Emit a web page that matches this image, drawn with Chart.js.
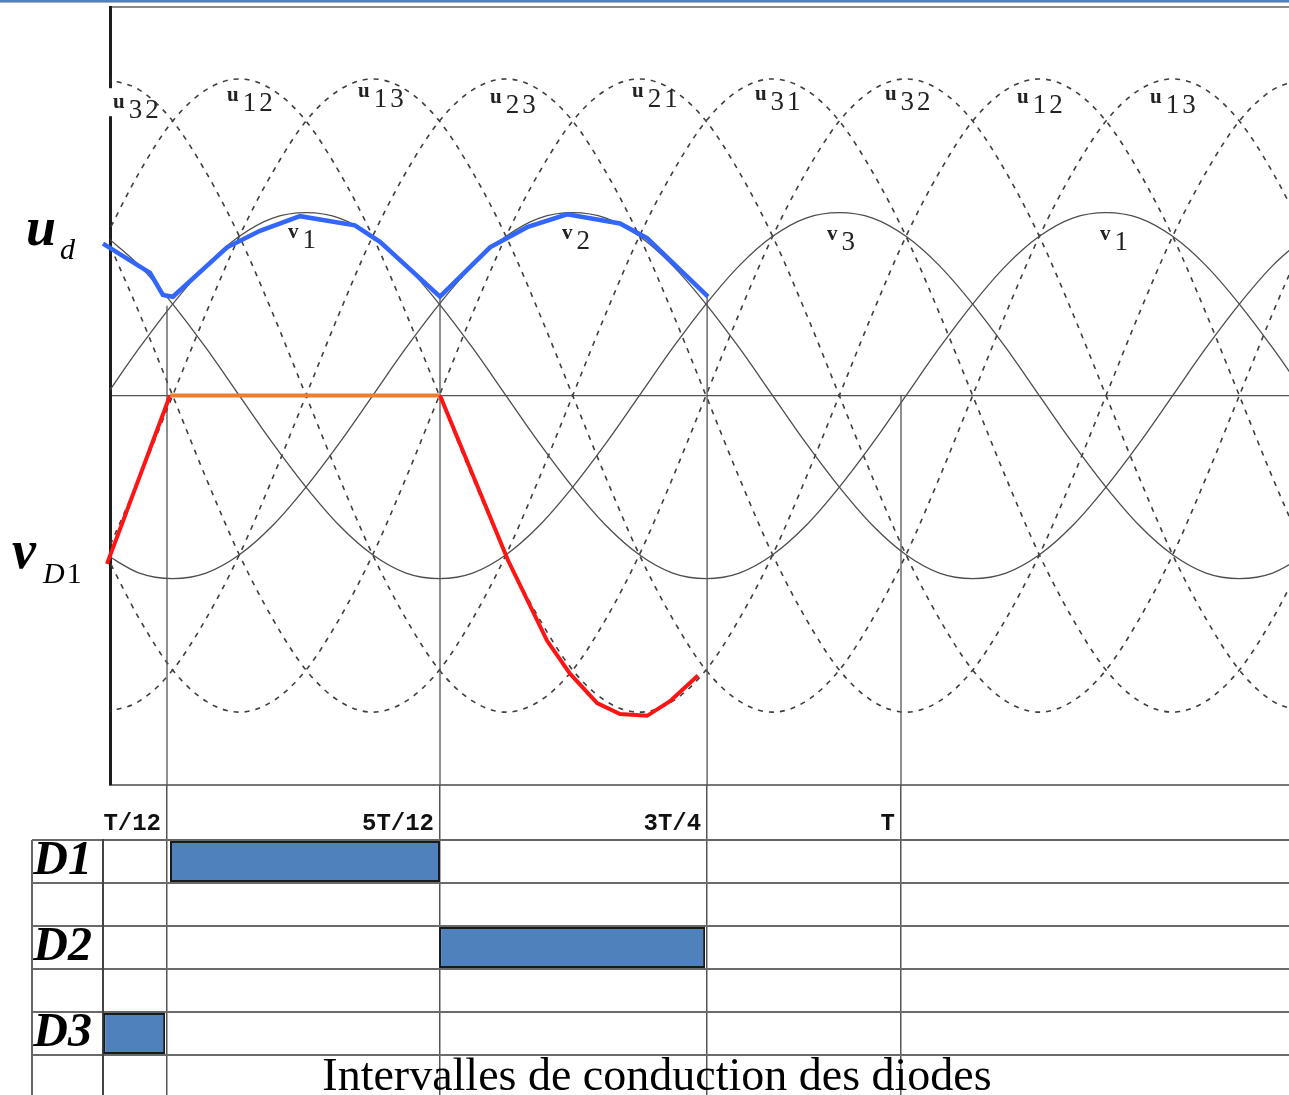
<!DOCTYPE html>
<html>
<head>
<meta charset="utf-8">
<script src="https://cdn.jsdelivr.net/npm/chart.js@4.4.0/dist/chart.umd.min.js"></script>
<style>
  html, body { margin: 0; padding: 0; background: #fff; }
  body { width: 1289px; height: 1095px; overflow: hidden; position: relative; }
  #bord { position: absolute; left: 0; top: 0; width: 1289px; height: 2px; background: #4f81bd; border-bottom: 1px solid #a9b4c2; }
  #ondes { position: absolute; left: 0; top: 0; }
  #diodes { position: absolute; left: 0; top: 785px; }
</style>
</head>
<body>
<div id="bord"></div>
<canvas id="ondes" width="1289" height="788"></canvas>
<canvas id="diodes" width="1289" height="313"></canvas>
<script>
// angle wt en degres, pas de 15 degres
let angles = [0,15,30,45,60,75,90,105,120,135,150,165,180,195,210,225,240,255,270,285,300,315,330,345,360,375,390,405,420,435,450,465,480,495,510,525,540]

// tensions simples (trait plein)
let v1 = [0,.26,.5,.71,.87,.97,1,.97,.87,.71,.5,.26,0,-.26,-.5,-.71,-.87,-.97,-1,-.97,-.87,-.71,-.5,-.26,0,.26,.5,.71,.87,.97,1,.97,.87,.71,.5,.26,0]
let v2 = [-.87,-.97,-1,-.97,-.87,-.71,-.5,-.26,0,.26,.5,.71,.87,.97,1,.97,.87,.71,.5,.26,0,-.26,-.5,-.71,-.87,-.97,-1,-.97,-.87,-.71,-.5,-.26,0,.26,.5,.71,.87]
let v3 = [.87,.71,.5,.26,0,-.26,-.5,-.71,-.87,-.97,-1,-.97,-.87,-.71,-.5,-.26,0,.26,.5,.71,.87,.97,1,.97,.87,.71,.5,.26,0,-.26,-.5,-.71,-.87,-.97,-1,-.97,-.87]

// tensions composees (pointilles)
let u32 = [1.73,1.67,1.5,1.22,.87,.45,0,-.45,-.87,-1.22,-1.5,-1.67,-1.73,-1.67,-1.5,-1.22,-.87,-.45,0,.45,.87,1.22,1.5,1.67,1.73,1.67,1.5,1.22,.87,.45,0,-.45,-.87,-1.22,-1.5,-1.67,-1.73]
let u23 = [-1.73,-1.67,-1.5,-1.22,-.87,-.45,0,.45,.87,1.22,1.5,1.67,1.73,1.67,1.5,1.22,.87,.45,0,-.45,-.87,-1.22,-1.5,-1.67,-1.73,-1.67,-1.5,-1.22,-.87,-.45,0,.45,.87,1.22,1.5,1.67,1.73]
let u12 = [.87,1.22,1.5,1.67,1.73,1.67,1.5,1.22,.87,.45,0,-.45,-.87,-1.22,-1.5,-1.67,-1.73,-1.67,-1.5,-1.22,-.87,-.45,0,.45,.87,1.22,1.5,1.67,1.73,1.67,1.5,1.22,.87,.45,0,-.45,-.87]
let u21 = [-.87,-1.22,-1.5,-1.67,-1.73,-1.67,-1.5,-1.22,-.87,-.45,0,.45,.87,1.22,1.5,1.67,1.73,1.67,1.5,1.22,.87,.45,0,-.45,-.87,-1.22,-1.5,-1.67,-1.73,-1.67,-1.5,-1.22,-.87,-.45,0,.45,.87]
let u13 = [-.87,-.45,0,.45,.87,1.22,1.5,1.67,1.73,1.67,1.5,1.22,.87,.45,0,-.45,-.87,-1.22,-1.5,-1.67,-1.73,-1.67,-1.5,-1.22,-.87,-.45,0,.45,.87,1.22,1.5,1.67,1.73,1.67,1.5,1.22,.87]
let u31 = [.87,.45,0,-.45,-.87,-1.22,-1.5,-1.67,-1.73,-1.67,-1.5,-1.22,-.87,-.45,0,.45,.87,1.22,1.5,1.67,1.73,1.67,1.5,1.22,.87,.45,0,-.45,-.87,-1.22,-1.5,-1.67,-1.73,-1.67,-1.5,-1.22,-.87]

// ud (trace bleu)
let udAngles = [-1.35,19.8,25.6,30.1,54.5,69.3,87.3,112,123.3,150.3,172.8,189.5,207.5,231.3,243.5,270.9]
let udValeurs = [.83,.67,.55,.54,.81,.9,.98,.93,.84,.54,.81,.92,.99,.94,.86,.54]

// vD1 (rouge / orange)
let vdAngles = [0.45,28.8,150.3,180.9,198.5,208.8,221,231.3,243.5,253.8,266.4]
let vdValeurs = [-.92,0,0,-.9,-1.34,-1.52,-1.68,-1.74,-1.75,-1.67,-1.53]

// instants reperes T/12, 5T/12, 3T/4, T
let reperes = [27.45,150.3,270.5,357.75]
let reperesNoms = ['T/12','5T/12','3T/4','T']
let reperesHaut = [.49,.54,.54,0]

// intervalles de conduction
let diodes = ['D1','','D2','','D3','']
let conduction = [[28.8,150.3],null,[149.9,269.6],null,[-1.2,26.6],null]

const xMax = 532.35
const xMinOndes = 1.8
const xMinDiodes = -1.35
const yMin = -2.128
const yMax = 2.123

Chart.defaults.font.family = "'Liberation Serif', serif"

function serie(valeurs, xs) {
  xs = xs || angles
  return valeurs.map((v, i) => ({ x: xs[i], y: v }))
}

let datasets = []

;[u32, u12, u13, u23, u21, u31].forEach(u => {
  datasets.push({ data: serie(u), borderColor: '#3e3e3e', borderWidth: 1.6, borderDash: [5, 6],
    pointRadius: 0, cubicInterpolationMode: 'monotone', order: 3 })
})

;[v1, v2, v3].forEach(v => {
  datasets.push({ data: serie(v), borderColor: '#4d4d4d', borderWidth: 1.3,
    pointRadius: 0, cubicInterpolationMode: 'monotone', order: 2 })
})

reperes.forEach((a, i) => {
  datasets.push({ data: [{ x: a, y: reperesHaut[i] }, { x: a, y: yMin }], borderColor: '#555',
    borderWidth: 1.3, pointRadius: 0, order: 1 })
})

datasets.push({ data: serie(udValeurs, udAngles), borderColor: '#3366ff', borderWidth: 4.5,
  pointRadius: 0, tension: 0, clip: false, order: 0 })

datasets.push({ data: serie(vdValeurs, vdAngles), borderColor: '#ff1414', borderWidth: 4,
  pointRadius: 0, tension: 0, clip: false, order: 0,
  segment: { borderColor: c => (c.p0.parsed.y === 0 && c.p1.parsed.y === 0) ? '#f07d2e' : '#ff1414' } })

const etiquettes = {
  id: 'etiquettes',
  afterDraw(chart, args, opts) {
    const { ctx, chartArea } = chart
    const x = chart.scales.x, y = chart.scales.y
    ctx.save()
    ctx.textBaseline = 'alphabetic'
    ctx.textAlign = 'left'
    opts.courbes.forEach(l => {
      const px = x.getPixelForValue(l.x), py = y.getPixelForValue(l.y)
      if (l.fond) {
        ctx.fillStyle = '#fff'
        ctx.fillRect(chartArea.left - 4, py - 20, 8, 28)
      }
      ctx.fillStyle = '#222'
      ctx.font = "bold 21px 'Liberation Serif', serif"
      ctx.fillText(l.t, px, py)
      const w = ctx.measureText(l.t).width
      ctx.font = "27px 'Liberation Serif', serif"
      ctx.letterSpacing = '3px'
      ctx.fillText(l.i, px + w + 4, py + 10)
      ctx.letterSpacing = '0px'
    })

    // u_d
    ctx.fillStyle = '#000'
    ctx.font = "italic bold 54px 'Liberation Serif', serif"
    ctx.fillText('u', 26, 245)
    ctx.font = "italic 30px 'Liberation Serif', serif"
    ctx.fillText('d', 60, 259)

    // v_D1
    ctx.font = "italic bold 54px 'Liberation Serif', serif"
    ctx.fillText('v', 12, 568)
    ctx.font = "italic 30px 'Liberation Serif', serif"
    ctx.fillText('D', 43, 583)
    const wd = ctx.measureText('D').width
    ctx.font = "30px 'Liberation Serif', serif"
    ctx.fillText('1', 43 + wd + 2, 583)
    ctx.restore()
  }
}

new Chart(document.getElementById('ondes'), {
  type: 'line',
  data: { datasets: datasets },
  plugins: [etiquettes],
  options: {
    responsive: false,
    animation: false,
    layout: { padding: { left: 110, right: 0, top: 7, bottom: 3 } },
    plugins: {
      legend: { display: false },
      tooltip: { enabled: false },
      etiquettes: {
        courbes: [
          { t: 'u', i: '32', x: 3.2, y: 1.57, fond: true },
          { t: 'u', i: '12', x: 54.5, y: 1.61 },
          { t: 'u', i: '13', x: 113.4, y: 1.63 },
          { t: 'u', i: '23', x: 172.8, y: 1.6 },
          { t: 'u', i: '21', x: 236.7, y: 1.63 },
          { t: 'u', i: '31', x: 292, y: 1.615 },
          { t: 'u', i: '32', x: 350.5, y: 1.615 },
          { t: 'u', i: '12', x: 410, y: 1.6 },
          { t: 'u', i: '13', x: 469.8, y: 1.6 },
          { t: 'v', i: '1', x: 81.9, y: .86 },
          { t: 'v', i: '2', x: 205.2, y: .855 },
          { t: 'v', i: '3', x: 324.5, y: .85 },
          { t: 'v', i: '1', x: 447.3, y: .85 }
        ]
      }
    },
    scales: {
      x: {
        type: 'linear', position: 'bottom', min: xMinOndes, max: xMax,
        ticks: { display: false }, grid: { display: false },
        border: { color: '#777', width: 2 },
        afterFit: s => { s.height = 0 }
      },
      xHaut: {
        type: 'linear', position: 'top', min: xMinOndes, max: xMax,
        ticks: { display: false }, grid: { display: false },
        border: { color: '#8a8a8a', width: 2 },
        afterFit: s => { s.height = 0 }
      },
      y: {
        type: 'linear', min: yMin, max: yMax,
        ticks: { display: false },
        grid: { color: '#555', lineWidth: 1.3, drawTicks: false },
        border: { color: '#1e1e1e', width: 3 },
        afterBuildTicks: s => { s.ticks = [{ value: 0 }] },
        afterFit: s => { s.width = 0 }
      }
    }
  }
})

const cadre = {
  id: 'cadre',
  afterDraw(chart, args, opts) {
    const { ctx, chartArea } = chart
    ctx.save()
    ctx.strokeStyle = '#666'
    ctx.lineWidth = 2
    ctx.beginPath()
    ctx.moveTo(32, chartArea.top)
    ctx.lineTo(32, chartArea.bottom)
    ctx.stroke()
    ctx.fillStyle = '#000'
    ctx.font = "46px 'Liberation Serif', serif"
    ctx.textAlign = 'center'
    ctx.textBaseline = 'alphabetic'
    ctx.fillText(opts.titre, 657, 305)
    ctx.restore()
  }
}

new Chart(document.getElementById('diodes'), {
  type: 'bar',
  data: {
    labels: diodes,
    datasets: [{
      data: conduction,
      backgroundColor: '#4f81bd',
      borderColor: '#1a1a1a',
      borderWidth: 2,
      borderSkipped: false,
      barPercentage: 0.95,
      categoryPercentage: 1
    }]
  },
  plugins: [cadre],
  options: {
    indexAxis: 'y',
    responsive: false,
    animation: false,
    layout: { padding: { left: 32, right: 0, top: 0, bottom: 0 } },
    plugins: {
      legend: { display: false },
      tooltip: { enabled: false },
      cadre: { titre: 'Intervalles de conduction des diodes' }
    },
    scales: {
      x: {
        type: 'linear', position: 'top', min: xMinDiodes, max: xMax,
        afterBuildTicks: s => { s.ticks = reperes.map(v => ({ value: v })) },
        afterFit: s => { s.height = 55 },
        ticks: {
          autoSkip: false, maxRotation: 0, minRotation: 0, align: 'end', labelOffset: -6, padding: -53,
          color: '#111', font: { family: "'Liberation Mono', monospace", size: 24, weight: 'bold' },
          callback: (v, i) => reperesNoms[i]
        },
        grid: { color: '#555', lineWidth: 1.5, tickLength: 55 },
        border: { color: '#666', width: 2 }
      },
      y: {
        type: 'category', position: 'left', offset: true,
        afterFit: s => { s.width = 71 },
        ticks: {
          autoSkip: false, padding: -60, color: '#000',
          font: { family: "'Liberation Serif', serif", size: 48, style: 'italic', weight: 'bold' }
        },
        grid: { offset: true, color: '#6a6a6a', lineWidth: 2, tickLength: 71 },
        border: { color: '#444', width: 2 }
      }
    }
  }
})
</script>
</body>
</html>
